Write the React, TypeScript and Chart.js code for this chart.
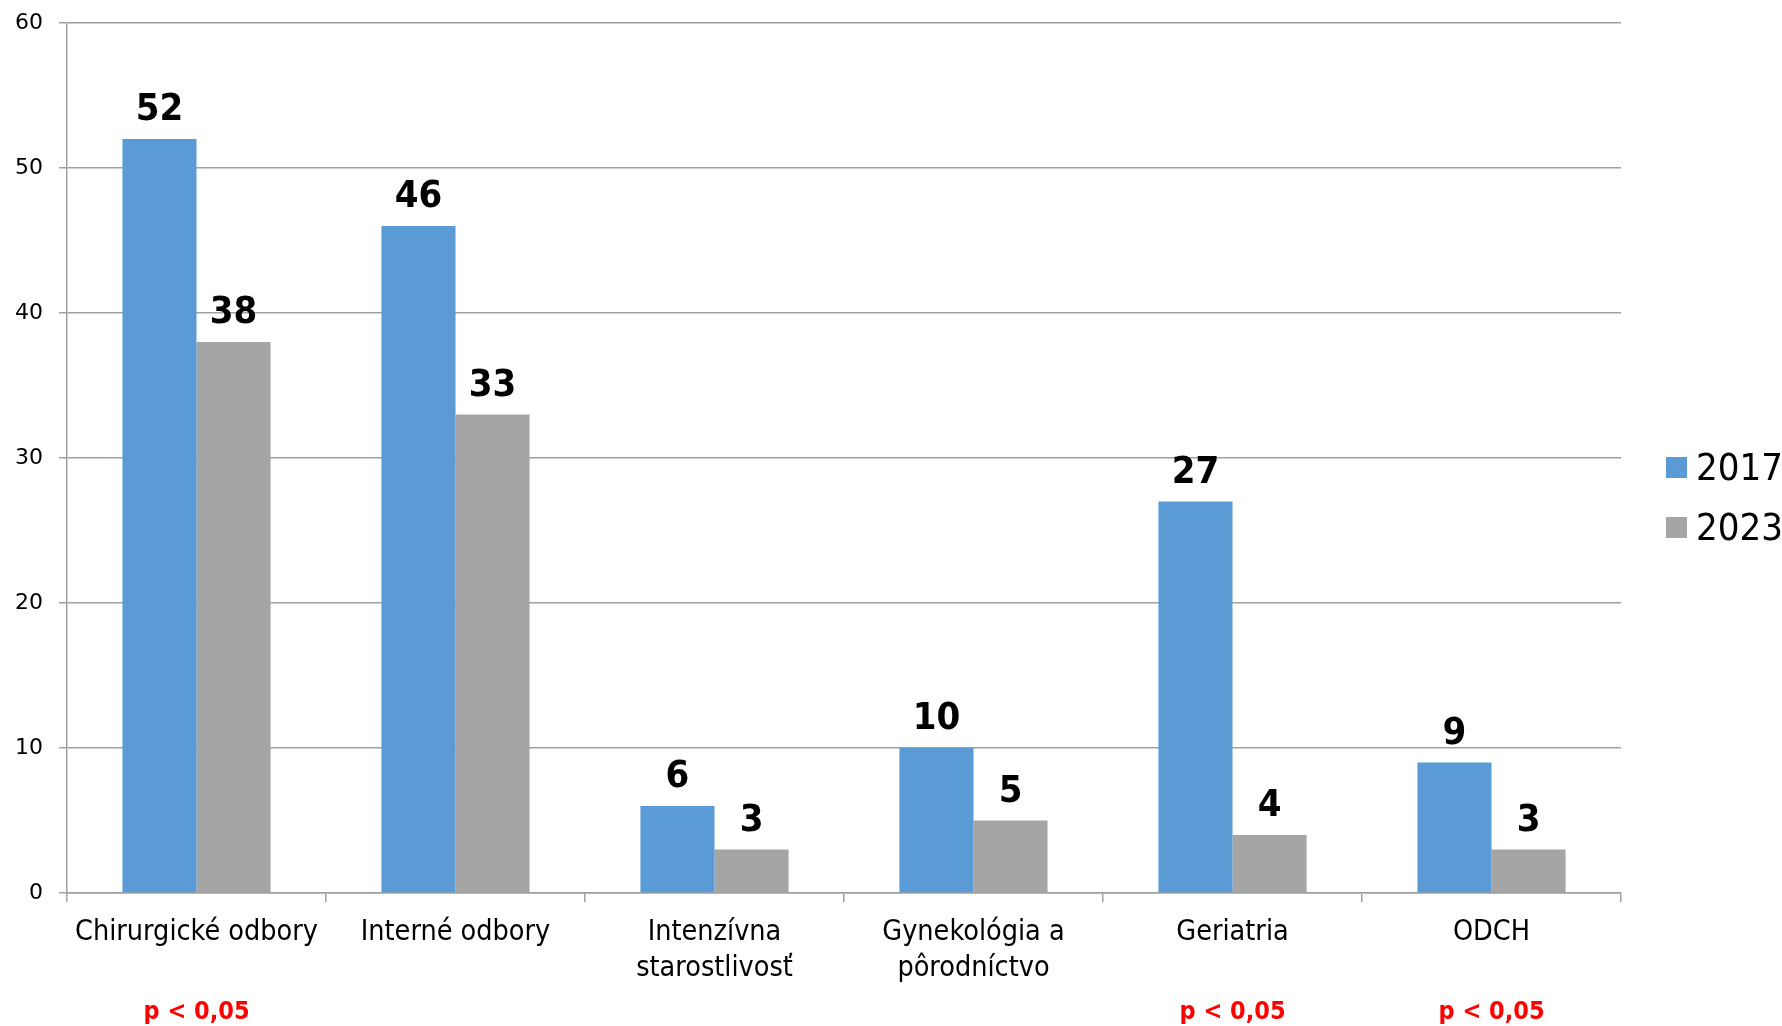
import { useEffect, useRef } from "react";
import { Chart, registerables } from "chart.js";

Chart.register(...registerables);

// Departments on the category axis (multi-line labels as arrays)
const categories: (string | string[])[] = [
  "Chirurgické odbory",
  "Interné odbory",
  ["Intenzívna", "starostlivosť"],
  ["Gynekológia a", "pôrodníctvo"],
  "Geriatria",
  "ODCH",
];

const seriesLabels = ["2017", "2023"];
const values2017 = [52, 46, 6, 10, 27, 9];
const values2023 = [38, 33, 3, 5, 4, 3];

// Significance notes printed under the category labels
const pValueNotes = ["p < 0,05", "", "", "", "p < 0,05", "p < 0,05"];

const yMin = 0;
const yMax = 60;
const yStep = 10;

const BLUE = "#5B9BD5";
const GRAY = "#A5A5A5";
const GRID = "#A0A0A0";
const FONT = "'DejaVu Sans Condensed', 'DejaVu Sans', sans-serif";

const valueLabelPlugin = {
  id: "valueLabels",
  afterDatasetsDraw(chart: any) {
    const ctx = chart.ctx;
    ctx.save();
    ctx.font = `bold 38px ${FONT}`;
    ctx.fillStyle = "#000";
    ctx.textAlign = "center";
    ctx.textBaseline = "alphabetic";
    chart.data.datasets.forEach((ds: any, di: number) => {
      const meta = chart.getDatasetMeta(di);
      meta.data.forEach((el: any, i: number) => {
        ctx.fillText(String(ds.data[i]), el.x, el.y - 19);
      });
    });
    ctx.restore();
  },
};

const notesPlugin = {
  id: "pNotes",
  afterDraw(chart: any) {
    const ctx = chart.ctx;
    const xs = chart.scales.x;
    ctx.save();
    ctx.font = `bold 25px ${FONT}`;
    ctx.fillStyle = "#FF0000";
    ctx.textAlign = "center";
    ctx.textBaseline = "alphabetic";
    pValueNotes.forEach((t, i) => {
      if (!t) return;
      ctx.fillText(t, xs.getPixelForValue(i), chart.chartArea.bottom + 126);
    });
    ctx.restore();
  },
};

const sideLegendPlugin = {
  id: "sideLegend",
  afterDraw(chart: any) {
    const ctx = chart.ctx;
    const area = chart.chartArea;
    const x0 = area.right + 45;
    const y0 = 457;
    ctx.save();
    ctx.font = `38px ${FONT}`;
    ctx.textAlign = "left";
    ctx.textBaseline = "alphabetic";
    chart.data.datasets.forEach((ds: any, i: number) => {
      const y = y0 + i * 60;
      ctx.fillStyle = ds.backgroundColor;
      ctx.fillRect(x0, y, 21, 21);
      ctx.fillStyle = "#000";
      ctx.fillText(ds.label, x0 + 30, y + 23);
    });
    ctx.restore();
  },
};

export default function App() {
  const canvasRef = useRef<HTMLCanvasElement | null>(null);

  useEffect(() => {
    if (!canvasRef.current) return;
    const chart = new Chart(canvasRef.current, {
      type: "bar",
      data: {
        labels: categories,
        datasets: [
          {
            label: seriesLabels[0],
            data: values2017,
            backgroundColor: BLUE,
            categoryPercentage: 0.572,
            barPercentage: 1,
          },
          {
            label: seriesLabels[1],
            data: values2023,
            backgroundColor: GRAY,
            categoryPercentage: 0.572,
            barPercentage: 1,
          },
        ],
      },
      options: {
        responsive: false,
        animation: false,
        layout: { padding: { top: 23, right: 161, left: 0, bottom: 0 } },
        plugins: {
          legend: { display: false },
          tooltip: { enabled: false },
        },
        scales: {
          x: {
            grid: {
              offset: true,
              drawOnChartArea: false,
              color: GRID,
              lineWidth: 1.5,
              tickLength: 9,
            },
            border: { color: GRID, width: 1.5 },
            ticks: {
              color: "#000",
              font: { family: FONT, size: 28.5, lineHeight: 1.27 },
              padding: 12,
              maxRotation: 0,
              autoSkip: false,
            },
            afterFit: (s: any) => {
              s.height = 133;
            },
          },
          y: {
            min: yMin,
            max: yMax,
            ticks: {
              stepSize: yStep,
              color: "#000",
              font: { family: "'DejaVu Sans', sans-serif", size: 22 },
              padding: 16,
            },
            grid: { color: GRID, lineWidth: 1.5, tickLength: 8 },
            border: { color: GRID, width: 1.5 },
            afterFit: (s: any) => {
              s.width = 67;
              s.paddingTop = 0;
              s.paddingBottom = 0;
            },
          },
        },
      },
      plugins: [valueLabelPlugin, notesPlugin, sideLegendPlugin],
    });
    return () => chart.destroy();
  }, []);

  return (
    <div style={{ position: "fixed", left: 0, top: 0, width: 1782, height: 1026, background: "#fff" }}>
      <canvas ref={canvasRef} width={1782} height={1026} />
    </div>
  );
}
